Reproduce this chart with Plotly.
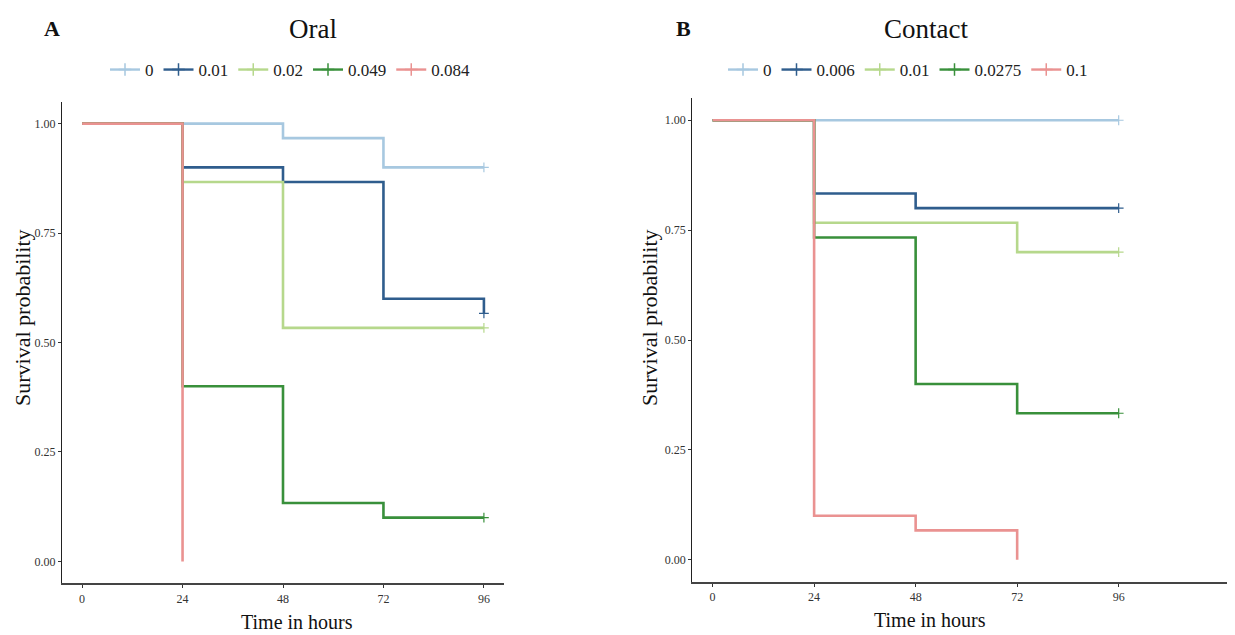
import plotly.graph_objects as go

# ---------------- data ----------------
tick_hours = [0, 24, 48, 72, 96]
tick_surv = [0.0, 0.25, 0.5, 0.75, 1.0]

oral_labels = ["0", "0.01", "0.02", "0.049", "0.084"]
oral_times = [
    [0, 24, 48, 72, 96],
    [0, 24, 48, 72, 96],
    [0, 24, 48, 72, 96],
    [0, 24, 48, 72, 96],
    [0, 24],
]
oral_surv = [
    [1.0, 1.0, 0.9667, 0.9, 0.9],
    [1.0, 0.9, 0.8667, 0.6, 0.5667],
    [1.0, 0.8667, 0.5333, 0.5333, 0.5333],
    [1.0, 0.4, 0.1333, 0.1, 0.1],
    [1.0, 0.0],
]

contact_labels = ["0", "0.006", "0.01", "0.0275", "0.1"]
contact_times = [
    [0, 24, 48, 72, 96],
    [0, 24, 48, 72, 96],
    [0, 24, 48, 72, 96],
    [0, 24, 48, 72, 96],
    [0, 24, 48, 72],
]
contact_surv = [
    [1.0, 1.0, 1.0, 1.0, 1.0],
    [1.0, 0.8333, 0.8, 0.8, 0.8],
    [1.0, 0.7667, 0.7667, 0.7, 0.7],
    [1.0, 0.7333, 0.4, 0.3333, 0.3333],
    [1.0, 0.1, 0.0667, 0.0],
]

colors = ["#a7c8e0", "#2f5d8d", "#b6d88c", "#39903b", "#ea9291"]

FONT = "Liberation Serif, Times New Roman, serif"

fig = go.Figure()


def add_panel(labels, times, survs, xref, yref, legend):
    for lab, t, s, col in zip(labels, times, survs, colors):
        # survival step curve
        fig.add_trace(go.Scatter(
            x=t, y=s, mode="lines", line=dict(color=col, width=2.6, shape="hv"),
            xaxis=xref, yaxis=yref, showlegend=False, hoverinfo="skip"))
        # censor mark at end of follow-up (only if curve still alive)
        if t[-1] == 96 and s[-1] > 0:
            fig.add_trace(go.Scatter(
                x=[t[-1]], y=[s[-1]], mode="markers",
                marker=dict(symbol="cross-thin", size=7, color=col,
                            line=dict(color=col, width=1.2)),
                xaxis=xref, yaxis=yref, showlegend=False, hoverinfo="skip"))
        # legend entry
        fig.add_trace(go.Scatter(
            x=[None], y=[None], mode="lines+markers", name=lab,
            line=dict(color=col, width=2.4),
            marker=dict(symbol="cross-thin", size=9, color=col,
                        line=dict(color=col, width=1.5)),
            xaxis=xref, yaxis=yref, legend=legend, showlegend=True))


add_panel(oral_labels, oral_times, oral_surv, "x", "y", "legend")
add_panel(contact_labels, contact_times, contact_surv, "x2", "y2", "legend2")

# page body has an 8px margin: place everything relative to the reference frame
OFF = 8
W, H = 1235 - OFF, 635 - OFF


def px(x):
    return (x - OFF) / W


def py(y):
    return (H - (y - OFF)) / H


axis_common = dict(
    showgrid=False, zeroline=False, showline=True, ticks="outside",
    ticklen=3, tickwidth=1.2, tickcolor="#333333",
    tickfont=dict(family=FONT, size=12, color="#333333"),
)

fig.update_layout(
    width=W, height=H,
    margin=dict(l=0, r=0, t=0, b=0),
    plot_bgcolor="white", paper_bgcolor="white",
    font=dict(family=FONT, color="#222222"),
    xaxis=dict(domain=[px(62), px(504)], range=[-4.8, 100.8],
               tickvals=tick_hours, anchor="y",
               linecolor="#444444", linewidth=1.6, **axis_common),
    yaxis=dict(domain=[py(583.3), py(101.7)], range=[-0.05, 1.05],
               tickvals=tick_surv, tickformat=".2f", anchor="x",
               linecolor="#222222", linewidth=1.3, **axis_common),
    xaxis2=dict(domain=[px(692.3), 1.0], range=[-4.8, 123.5],
                tickvals=tick_hours, anchor="y2",
                linecolor="#444444", linewidth=1.6, **axis_common),
    yaxis2=dict(domain=[py(581.7), py(98.3)], range=[-0.05, 1.05],
                tickvals=tick_surv, tickformat=".2f", anchor="x2",
                linecolor="#222222", linewidth=1.3, **axis_common),
    legend=dict(orientation="h", x=px(290), y=py(70), xanchor="center",
                yanchor="middle", font=dict(family=FONT, size=17, color="#222222"),
                itemwidth=30, bgcolor="rgba(0,0,0,0)"),
    legend2=dict(orientation="h", x=px(908), y=py(70), xanchor="center",
                 yanchor="middle", font=dict(family=FONT, size=17, color="#222222"),
                 itemwidth=30, bgcolor="rgba(0,0,0,0)"),
)

annotations = [
    dict(text="<b>A</b>", x=px(52), y=py(29), size=22),
    dict(text="Oral", x=px(313), y=py(29), size=27),
    dict(text="<b>B</b>", x=px(683), y=py(29), size=22),
    dict(text="Contact", x=px(926), y=py(29), size=27),
    dict(text="Time in hours", x=px(297), y=py(622), size=20),
    dict(text="Time in hours", x=px(930), y=py(620), size=20),
]
for a in annotations:
    fig.add_annotation(text=a["text"], x=a["x"], y=a["y"], xref="paper", yref="paper",
                       xanchor="center", yanchor="middle", showarrow=False,
                       font=dict(family=FONT, size=a["size"], color="#111111"))

for xpos, ypos in [(23, 318), (650, 318)]:
    fig.add_annotation(text="Survival probability", x=px(xpos), y=py(ypos),
                       xref="paper", yref="paper", xanchor="center", yanchor="middle",
                       textangle=-90, showarrow=False,
                       font=dict(family=FONT, size=22, color="#111111"))

fig.write_html("out.html")
